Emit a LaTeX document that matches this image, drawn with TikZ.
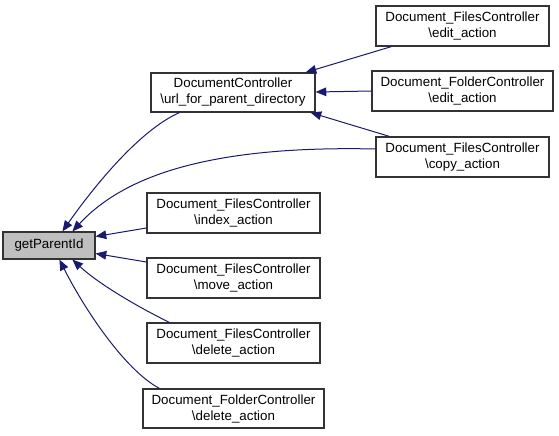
\documentclass[tikz,border=0pt]{standalone}
\usepackage{fontspec}
\setmainfont{Liberation Sans}
\usetikzlibrary{arrows.meta,calc}
\definecolor{edgeblue}{HTML}{191970}
\definecolor{gpgray}{HTML}{BFBFBF}
\tikzset{
  box/.style={draw=black!80, line width=0.9pt, fill=white, align=center, inner sep=0pt,
    font=\fontsize{10pt}{12pt}\selectfont},
  edge/.style={draw=edgeblue, line width=0.75pt, -{Triangle[length=8pt,width=6.5pt]}, edgeblue},
}
\begin{document}
\begin{tikzpicture}[x=0.75pt,y=-0.75pt]
\useasboundingbox (0,0) rectangle (559,435);
\node[box, fill=gpgray, minimum width=92*0.75pt, minimum height=27*0.75pt] (gp) at (49,245.5) {getParentId};
\node[box, minimum width=164*0.75pt, minimum height=39*0.75pt] (dc) at (233,92.5) {DocumentController\\\textbackslash url\_for\_parent\_directory};
\node[box, minimum width=173*0.75pt, minimum height=40*0.75pt] (idx) at (233.5,213) {Document\_FilesController\\\textbackslash index\_action};
\node[box, minimum width=173*0.75pt, minimum height=40*0.75pt] (mv) at (233.5,278) {Document\_FilesController\\\textbackslash move\_action};
\node[box, minimum width=173*0.75pt, minimum height=40*0.75pt] (fdel) at (233.5,343) {Document\_FilesController\\\textbackslash delete\_action};
\node[box, minimum width=181*0.75pt, minimum height=39*0.75pt] (fodel) at (233.5,408.5) {Document\_FolderController\\\textbackslash delete\_action};
\node[box, minimum width=173*0.75pt, minimum height=40*0.75pt] (fedit) at (462.5,26) {Document\_FilesController\\\textbackslash edit\_action};
\node[box, minimum width=181*0.75pt, minimum height=40*0.75pt] (foedit) at (462.5,91) {Document\_FolderController\\\textbackslash edit\_action};
\node[box, minimum width=173*0.75pt, minimum height=40*0.75pt] (copy) at (462.5,157) {Document\_FilesController\\\textbackslash copy\_action};

% edges into getParentId
\draw[edge] ($(dc.south west)+(29,0)$) .. controls (140,130) and (95,185) .. ($(gp.north west)+(60,0)$);
\draw[edge] ($(copy.west)+(0,-8)$) .. controls (200,145) and (120,180) .. ($(gp.north west)+(70,0)$);
\draw[edge] ($(idx.west)+(0,15)$) -- ($(gp.east)+(0,-9)$);
\draw[edge] ($(mv.west)+(0,-16)$) -- ($(gp.east)+(0,8)$);
\draw[edge] ($(fdel.north west)+(23,0)$) .. controls (140,308) and (100,285) .. ($(gp.south west)+(70,0)$);
\draw[edge] ($(fodel.north west)+(17,0)$) .. controls (125,370) and (85,310) .. ($(gp.south west)+(57,0)$);

% edges into DocumentController
\draw[edge] ($(fedit.south west)+(16,0)$) -- ($(dc.north east)+(-10,0)$);
\draw[edge] ($(foedit.west)+(0,0)$) -- ($(dc.east)+(0,-0.5)$);
\draw[edge] ($(copy.north west)+(14,0)$) -- ($(dc.south east)+(-5,0)$);
\end{tikzpicture}
\end{document}
